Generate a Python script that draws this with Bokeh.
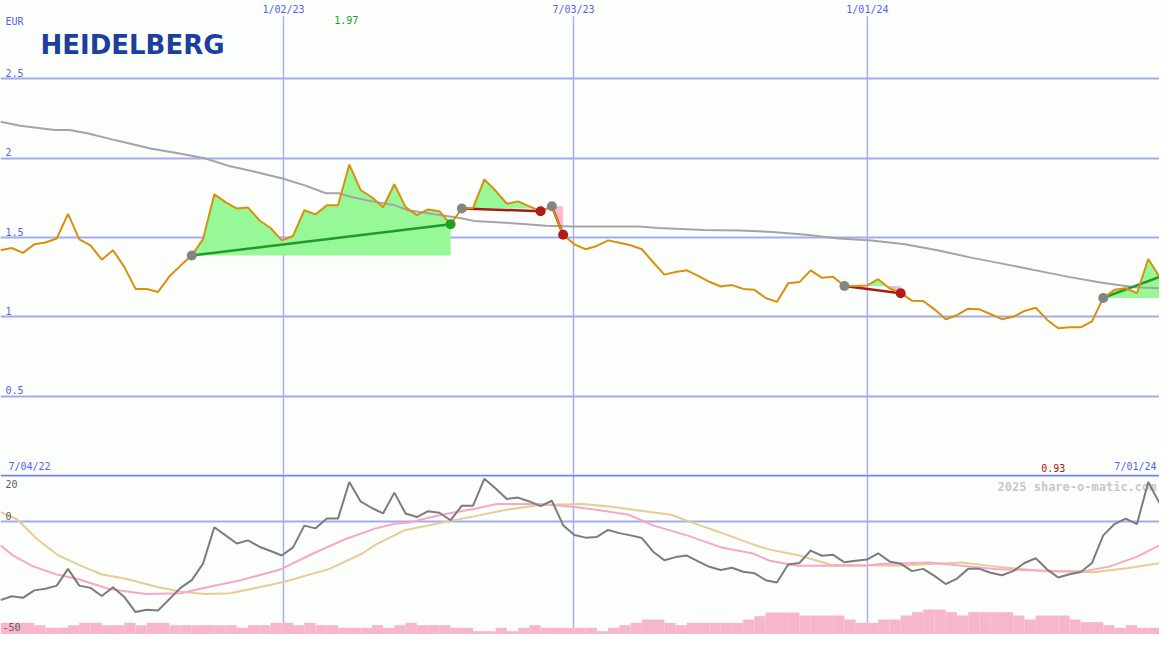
from bokeh.plotting import figure
from bokeh.models import Range1d
from bokeh.layouts import column
from bokeh.embed import file_html
from bokeh.resources import INLINE
from bokeh.core.properties import value

# ---------------- data ----------------
weeks = list(range(104))
price = [1.420, 1.434, 1.403, 1.457, 1.469, 1.494, 1.649, 1.488, 1.451, 1.360,
         1.420, 1.315, 1.176, 1.176, 1.157, 1.254, 1.323, 1.387, 1.490, 1.772,
         1.723, 1.683, 1.689, 1.609, 1.560, 1.482, 1.510, 1.672, 1.646, 1.703,
         1.703, 1.960, 1.800, 1.754, 1.691, 1.836, 1.692, 1.641, 1.677, 1.666,
         1.584, 1.683, 1.687, 1.867, 1.795, 1.713, 1.728, 1.697, 1.666, 1.697,
         1.518, 1.457, 1.426, 1.447, 1.482, 1.467, 1.451, 1.426, 1.344, 1.266,
         1.283, 1.293, 1.258, 1.221, 1.191, 1.200, 1.176, 1.170, 1.119, 1.094,
         1.211, 1.219, 1.293, 1.246, 1.252, 1.194, 1.194, 1.197, 1.237, 1.180,
         1.149, 1.102, 1.100, 1.047, 0.985, 1.010, 1.051, 1.047, 1.016, 0.985,
         1.000, 1.037, 1.057, 0.982, 0.928, 0.934, 0.934, 0.971, 1.119, 1.170,
         1.180, 1.149, 1.365, 1.252]

ma_x = [0.0, 1.75, 4.82, 6.13, 7.71, 10.25, 13.32, 15.78, 18.14, 20.42, 22.79,
        25.15, 27.17, 28.92, 30.06, 31.29, 33.04, 35.06, 36.20, 39.18, 40.93,
        42.07, 46.45, 48.47, 50.83, 56.70, 58.46, 62.49, 65.73, 68.62, 71.60,
        74.50, 77.39, 80.37, 83.26, 86.15, 89.13, 92.02, 94.92, 97.90, 100.79, 103.0]
ma_y = [2.230, 2.205, 2.178, 2.178, 2.158, 2.113, 2.061, 2.031, 2.000, 1.949, 1.912,
        1.871, 1.826, 1.779, 1.779, 1.754, 1.728, 1.703, 1.672, 1.641, 1.621,
        1.605, 1.586, 1.574, 1.569, 1.569, 1.560, 1.547, 1.545, 1.535, 1.518,
        1.494, 1.482, 1.457, 1.420, 1.375, 1.334, 1.293, 1.252, 1.215, 1.186, 1.180]

osc = [-34.9, -33.2, -33.9, -30.6, -29.9, -28.5, -21.1, -28.5, -29.5, -33.1,
       -29.2, -33.5, -40.2, -39.2, -39.5, -34.5, -29.5, -26.1, -18.8, -2.7,
       -6.3, -9.9, -8.5, -11.3, -13.2, -15.2, -11.6, -2.0, -3.2, 1.2,
       1.2, 17.3, 8.7, 5.8, 3.4, 12.6, 3.4, 1.8, 4.4, 3.7,
       0.4, 6.8, 6.8, 18.7, 14.4, 9.8, 10.4, 8.7, 6.6, 9.0,
       -1.8, -6.1, -7.3, -7.0, -3.9, -5.3, -6.3, -7.5, -13.5, -17.3,
       -15.9, -15.2, -17.8, -20.2, -21.6, -20.6, -22.4, -23.0, -26.1, -27.1,
       -19.2, -18.5, -13.0, -15.3, -14.9, -18.2, -17.5, -17.0, -14.2, -17.8,
       -18.8, -22.1, -21.1, -24.2, -27.8, -25.4, -21.1, -21.1, -22.8, -23.9,
       -22.1, -18.5, -16.4, -21.3, -24.9, -23.5, -22.5, -18.5, -6.3, -1.3,
       1.1, -1.3, 17.3, 8.0]

pink_x = [0.0, 1.05, 2.89, 5.0, 7.01, 9.64, 12.88, 16.04, 18.14, 21.03, 24.8,
          27.78, 30.67, 33.3, 35.06, 36.2, 39.18, 42.07, 44.08, 47.94, 50.83,
          53.72, 55.83, 58.11, 61.09, 63.98, 66.87, 68.36, 70.82, 76.69, 78.18,
          82.56, 85.45, 88.34, 94.22, 96.23, 98.6, 100.96, 103.0]
pink_y = [-10.7, -15.0, -20.0, -23.6, -25.8, -30.0, -32.2, -31.9, -29.4, -26.5, -21.5,
          -14.3, -7.9, -3.3, -1.2, -0.7, 2.8, 5.4, 7.6, 7.6, 6.4,
          4.5, 2.8, -2.1, -6.4, -11.5, -14.3, -17.5, -19.7, -19.7, -18.9,
          -18.3, -19.7, -21.2, -22.2, -22.2, -20.0, -15.8, -10.7]

tan_x = [0.0, 1.49, 3.24, 5.08, 7.27, 9.03, 11.13, 13.76, 16.04, 18.14, 20.42,
         22.79, 25.15, 29.18, 32.16, 33.3, 35.93, 39.18, 42.07, 44.96, 47.94,
         51.71, 54.34, 56.7, 59.6, 61.09, 63.98, 66.87, 68.36, 70.82, 73.8,
         79.58, 85.45, 88.34, 92.73, 97.11, 100.09, 103.0]
tan_y = [4.0, 0.7, -7.9, -15.0, -20.0, -23.6, -25.5, -28.9, -31.2, -32.2, -31.9,
         -29.4, -26.9, -21.2, -14.3, -10.5, -4.0, -0.7, 2.1, 5.0, 7.1,
         7.6, 6.4, 4.7, 2.8, 0.0, -5.0, -10.3, -12.6, -15.0, -19.3,
         -19.7, -18.3, -20.0, -22.2, -22.6, -20.8, -18.6]

volume = [3.5, 3.5, 3.5, 2.8, 2.0, 2.0, 2.8, 3.5, 3.5, 2.8,
          2.8, 3.5, 2.8, 3.5, 3.5, 2.8, 2.8, 2.8, 2.8, 2.8,
          2.8, 2.0, 2.8, 2.8, 3.5, 3.5, 2.8, 3.5, 2.8, 2.8,
          2.0, 2.0, 2.0, 2.8, 2.0, 2.8, 3.5, 2.8, 2.8, 2.8,
          2.0, 2.0, 1.0, 1.0, 2.0, 1.0, 2.0, 2.8, 2.0, 2.0,
          2.0, 2.0, 2.0, 1.0, 2.0, 2.8, 3.5, 4.5, 4.5, 3.5,
          2.8, 3.5, 3.5, 3.5, 3.5, 3.5, 4.5, 5.5, 6.6, 6.6,
          6.6, 5.7, 5.7, 5.7, 5.7, 4.5, 3.5, 3.5, 4.5, 4.5,
          5.7, 6.7, 7.5, 7.5, 6.7, 5.7, 6.7, 6.7, 6.7, 6.7,
          5.7, 4.5, 5.7, 5.7, 5.7, 4.5, 3.7, 3.7, 2.8, 2.0,
          2.8, 2.0, 2.0]

trend_start = [17, 41, 49, 75, 98]
trend_end = [40, 48, 50, 80, 103]
trend_dir = ["up", "down", "down", "down", "up"]
trend_closed = [True, True, True, True, False]

price_grid = [0.5, 1.0, 1.5, 2.0, 2.5]
price_grid_labels = ["0.5", "1", "1.5", "2", "2.5"]
date_tick_x = [25.15, 50.92, 77.04]
date_tick_labels = ["1/02/23", "7/03/23", "1/01/24"]
range_labels = ["7/04/22", "7/01/24"]
osc_ticks = [20, 0, -50]
osc_tick_labels = ["20", "0", "-50"]
high_label = "1.97"
low_label = "0.93"

# ---------------- style ----------------
W = 1159
H_TOP = 474
H_BOT = 160
BG = "#fcfefc"
GRID = "#a3abee"
VGRID = "#a8b0f2"
SEP = "#7682ee"
BLUE = "#5262f0"
MONO = value("DejaVu Sans Mono")
ORANGE = "#d9900c"
GREEN_FILL = "#96f896"
PINK_FILL = "#ffb8cc"
TOP_Y = (0.0055, 2.995)
BOT_Y = (-50.1, 20.6)

def make_fig(h, yr):
    f = figure(width=W, height=h, x_range=Range1d(0, 103), y_range=Range1d(*yr),
               output_backend="svg", toolbar_location=None, min_border=0,
               x_axis_type=None, y_axis_type=None,
               background_fill_color=BG, border_fill_color=BG,
               outline_line_color=None)
    f.xgrid.visible = False
    f.ygrid.visible = False
    return f

# ---------------- top panel ----------------
p = make_fig(H_TOP, TOP_Y)
p.hspan(y=price_grid, line_color=GRID, line_width=2)
p.segment(x0=date_tick_x, y0=[TOP_Y[0]] * 3, x1=date_tick_x, y1=[TOP_Y[1] - 0.1] * 3,
          line_color=VGRID, line_width=1.5)


def split_fill(xs, ys, level):
    px, up, dn = [], [], []
    for i in range(len(xs)):
        if i > 0:
            y0, y1 = ys[i - 1], ys[i]
            if (y0 - level) * (y1 - level) < 0:
                t = (level - y0) / (y1 - y0)
                xc = xs[i - 1] + t * (xs[i] - xs[i - 1])
                px.append(xc)
                up.append(level)
                dn.append(level)
        px.append(xs[i])
        up.append(max(ys[i], level))
        dn.append(min(ys[i], level))
    return px, up, dn


for s, e in zip(trend_start, trend_end):
    xs = weeks[s:e + 1]
    ys = price[s:e + 1]
    lvl = price[s]
    fx, up, dn = split_fill(xs, ys, lvl)
    p.varea(x=fx, y1=[lvl] * len(fx), y2=up, fill_color=GREEN_FILL)
    p.varea(x=fx, y1=dn, y2=[lvl] * len(fx), fill_color=PINK_FILL)

p.line(ma_x, ma_y, line_color="#a4a4a4", line_width=2)

for s, e, d in zip(trend_start, trend_end, trend_dir):
    p.line([weeks[s], weeks[e]], [price[s], price[e]],
           line_color="#22992a" if d == "up" else "#a31c1c", line_width=2.5)

p.line(weeks, price, line_color=ORANGE, line_width=2)

p.scatter(x=[weeks[s] for s in trend_start], y=[price[s] for s in trend_start],
          size=10, fill_color="#848484", line_color=None)
end_x = [weeks[e] for e, c in zip(trend_end, trend_closed) if c]
end_y = [price[e] for e, c in zip(trend_end, trend_closed) if c]
end_c = ["#22a022" if d == "up" else "#b01a1a"
         for d, c in zip(trend_dir, trend_closed) if c]
p.scatter(x=end_x, y=end_y, size=10, fill_color=end_c, line_color=None)

# labels top
p.text(x=[0] * 5, y=price_grid, text=price_grid_labels, x_offset=5, y_offset=-2,
       text_baseline="bottom", text_align="left", text_font=MONO,
       text_font_size="10px", text_color=BLUE)
p.text(x=date_tick_x, y=[TOP_Y[1]] * 3, text=date_tick_labels, y_offset=3,
       text_baseline="top", text_align="center", text_font=MONO,
       text_font_size="10px", text_color=BLUE)
p.text(x=[0], y=[TOP_Y[1]], text=["EUR"], x_offset=5, y_offset=15,
       text_baseline="top", text_align="left", text_font=MONO,
       text_font_size="10px", text_color=BLUE)
p.text(x=[0], y=[TOP_Y[1]], text=["HEIDELBERG"], x_offset=40, y_offset=29,
       text_baseline="top", text_align="left", text_font=value("DejaVu Sans"),
       text_font_style="bold", text_font_size="26px", text_color="#1c3f9e")
imax = price.index(max(price))
imin = price.index(min(price))
p.text(x=[weeks[imax]], y=[TOP_Y[1]], text=[high_label], x_offset=-3, y_offset=15,
       text_baseline="top", text_align="center", text_font=MONO,
       text_font_size="10px", text_color="#22992a")
p.text(x=[weeks[imin]], y=[TOP_Y[0]], text=[low_label], x_offset=-5, y_offset=-3,
       text_baseline="bottom", text_align="center", text_font=MONO,
       text_font_size="10px", text_color="#a81414")
p.text(x=[0, 103], y=[TOP_Y[0]] * 2, text=range_labels, x_offset=[8, -3], y_offset=-3,
       text_baseline="bottom", text_align=["left", "right"], text_font=MONO,
       text_font_size="10px", text_color=BLUE)

# ---------------- bottom panel ----------------
q = make_fig(H_BOT, BOT_Y)
q.extra_y_ranges = {"vol": Range1d(0, 48)}
q.vspan(x=date_tick_x, line_color=VGRID, line_width=1.5)
q.hspan(y=[0], line_color=GRID, line_width=2)
q.hspan(y=[20], line_color=SEP, line_width=2)
q.vbar(x=[w + 0.5 for w in weeks[:len(volume)]], top=volume, bottom=0, width=1.0,
       y_range_name="vol", fill_color="#f8b6ca", line_color=None)
q.text(x=[103], y=[20], text=["2025 share-o-matic.com"], x_offset=-3, y_offset=4,
       text_baseline="top", text_align="right", text_font=MONO,
       text_font_style="bold", text_font_size="12px", text_color="#c8c8c8")
q.line(tan_x, tan_y, line_color="#e6cc98", line_width=2)
q.line(pink_x, pink_y, line_color="#f8a8c6", line_width=2)
q.line(weeks, osc, line_color="#7c7c7c", line_width=2)
q.text(x=[0, 0, 0], y=osc_ticks, text=osc_tick_labels, x_offset=[5, 5, 2],
       y_offset=[4, -1, -3], text_baseline=["top", "bottom", "bottom"],
       text_align="left", text_font=MONO, text_font_size="10px", text_color="#606060")

layout = column(p, q, spacing=0)
open("out.html", "w").write(file_html(layout, INLINE))
